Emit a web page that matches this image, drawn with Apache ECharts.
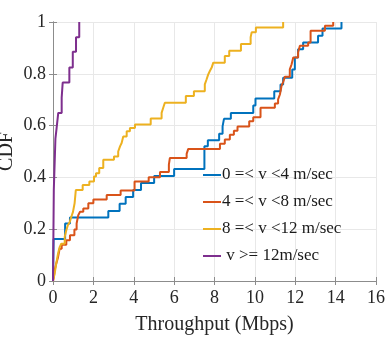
<!DOCTYPE html>
<html>
<head>
<meta charset="utf-8">
<script src="https://cdn.jsdelivr.net/npm/echarts@6/dist/echarts.min.js"></script>
<style>
html,body{margin:0;padding:0;background:#fff;}
#chart{width:387px;height:344px;}
</style>
</head>
<body>
<div id="chart"></div>
<script>
// Legend labels
const seriesNames = ['0 =< v <4 m/sec', '4 =< v <8 m/sec', '8 =< v <12 m/sec', ' v >= 12m/sec'];

// CDF points [throughput (Mbps), CDF] for each speed range
const speed0to4 = [[0,0],[0.03,0.162],[0.6,0.222],[0.84,0.245],[2.74,0.27],[3.3,0.298],[3.6,0.324],[3.97,0.351],[4.36,0.378],[5.01,0.405],[6.0,0.432],[7.5,0.52],[7.67,0.543],[8.23,0.569],[8.4,0.597],[8.47,0.626],[8.81,0.649],[9.92,0.678],[10.03,0.705],[10.96,0.733],[11.27,0.759],[11.4,0.785],[11.85,0.817],[11.98,0.863],[12.14,0.895],[12.39,0.921],[13.13,0.947],[13.35,0.975],[14.29,1.0]];
const speed4to8 = [[0,0],[0.05,0.02],[0.08,0.04],[0.16,0.067],[0.25,0.092],[0.33,0.125],[0.43,0.14],[0.66,0.157],[0.84,0.177],[1.06,0.199],[1.17,0.222],[1.25,0.254],[1.34,0.267],[1.5,0.28],[1.75,0.30],[2.0,0.315],[2.66,0.332],[3.35,0.349],[4.04,0.384],[4.74,0.401],[5.3,0.421],[5.74,0.449],[5.79,0.475],[6.62,0.491],[6.7,0.51],[8.27,0.53],[8.51,0.546],[8.76,0.565],[8.96,0.58],[9.14,0.597],[9.72,0.617],[9.92,0.632],[10.28,0.669],[10.99,0.685],[11.15,0.701],[11.24,0.72],[11.32,0.753],[11.4,0.768],[11.49,0.789],[11.73,0.817],[11.82,0.837],[11.9,0.863],[12.14,0.882],[12.23,0.908],[12.64,0.921],[12.76,0.966],[13.47,0.986],[13.88,1.0]];
const speed8to12 = [[0,0],[0.08,0.028],[0.16,0.067],[0.25,0.106],[0.33,0.131],[0.41,0.144],[0.58,0.17],[0.66,0.196],[0.74,0.216],[0.83,0.228],[0.91,0.248],[0.99,0.267],[1.07,0.30],[1.13,0.351],[1.47,0.371],[1.8,0.384],[2.03,0.403],[2.13,0.416],[2.29,0.436],[2.49,0.468],[3.02,0.481],[3.23,0.5],[3.32,0.52],[3.4,0.533],[3.48,0.558],[3.65,0.578],[3.81,0.591],[4.06,0.604],[4.84,0.627],[5.38,0.649],[5.46,0.669],[5.54,0.688],[6.58,0.714],[6.98,0.733],[7.52,0.759],[7.61,0.779],[7.69,0.798],[7.77,0.811],[7.86,0.824],[7.94,0.843],[8.51,0.869],[8.73,0.889],[9.31,0.915],[9.79,0.941],[9.84,0.96],[10.05,0.979],[11.4,1.0]];
const speed12up = [[0,0],[0.04,0.351],[0.12,0.55],[0.18,0.591],[0.26,0.649],[0.43,0.708],[0.48,0.766],[0.81,0.824],[0.98,0.885],[1.14,0.941],[1.3,1.0]];

const seriesData = [speed0to4, speed4to8, speed8to12, speed12up];
const colors = ['#0072BD', '#D95319', '#EDB120', '#7E2F8E'];

const font = 'Liberation Serif';
const axisColor = '#8c8c8c';
const chart = echarts.init(document.getElementById('chart'), null, {renderer: 'canvas'});

const hiddenAxisCommon = {
  axisLine: {show: true, lineStyle: {color: axisColor, width: 1}},
  axisTick: {show: true, inside: true, length: 4, lineStyle: {color: axisColor}},
  axisLabel: {show: false},
  splitLine: {show: false}
};

chart.setOption({
  animation: false,
  backgroundColor: '#fff',
  color: colors,
  grid: {left: 53, right: 11, top: 22, bottom: 63, containLabel: false, outerBoundsMode: 'none'},
  legend: {
    orient: 'vertical',
    left: 203,
    top: 166,
    padding: 0,
    itemGap: 9,
    itemWidth: 18,
    itemHeight: 2,
    icon: 'rect',
    data: seriesNames,
    textStyle: {fontFamily: font, fontSize: 17, color: '#1a1a1a', lineHeight: 18, padding: [0,0,0,-4]}
  },
  xAxis: [{
    type: 'value', min: 0, max: 16, interval: 2,
    name: 'Throughput (Mbps)', nameLocation: 'middle', nameGap: 34, nameMoveOverlap: false,
    nameTextStyle: {fontFamily: font, fontSize: 20, color: '#262626'},
    axisLine: {show: true, onZero: false, lineStyle: {color: axisColor, width: 1}},
    axisTick: {show: true, inside: true, length: 4, lineStyle: {color: axisColor}},
    axisLabel: {fontFamily: font, fontSize: 18, color: '#262626', margin: 8},
    splitLine: {show: true, lineStyle: {color: '#e8e8e8', width: 1}}
  }, Object.assign({type: 'value', min: 0, max: 16, interval: 2, position: 'top'}, hiddenAxisCommon)],
  yAxis: [{
    type: 'value', min: 0, max: 1, interval: 0.2,
    name: 'CDF', nameLocation: 'middle', nameGap: 36, nameMoveOverlap: false,
    nameTextStyle: {fontFamily: font, fontSize: 20, color: '#262626'},
    axisLine: {show: true, onZero: false, lineStyle: {color: axisColor, width: 1}},
    axisTick: {show: true, inside: true, length: 4, lineStyle: {color: axisColor}},
    axisLabel: {fontFamily: font, fontSize: 18, color: '#262626', margin: 7,
      formatter: function (v) { return String(Math.round(v * 10) / 10); }},
    splitLine: {show: true, lineStyle: {color: '#e8e8e8', width: 1}}
  }, Object.assign({type: 'value', min: 0, max: 1, interval: 0.2, position: 'right'}, hiddenAxisCommon)],
  series: seriesData.map(function (d, i) {
    return {
      name: seriesNames[i], type: 'line', step: 'end', data: d,
      xAxisIndex: 0, yAxisIndex: 0,
      showSymbol: false, symbol: 'none',
      lineStyle: {width: 2, color: colors[i]},
      itemStyle: {color: colors[i]}
    };
  })
});
</script>
</body>
</html>
